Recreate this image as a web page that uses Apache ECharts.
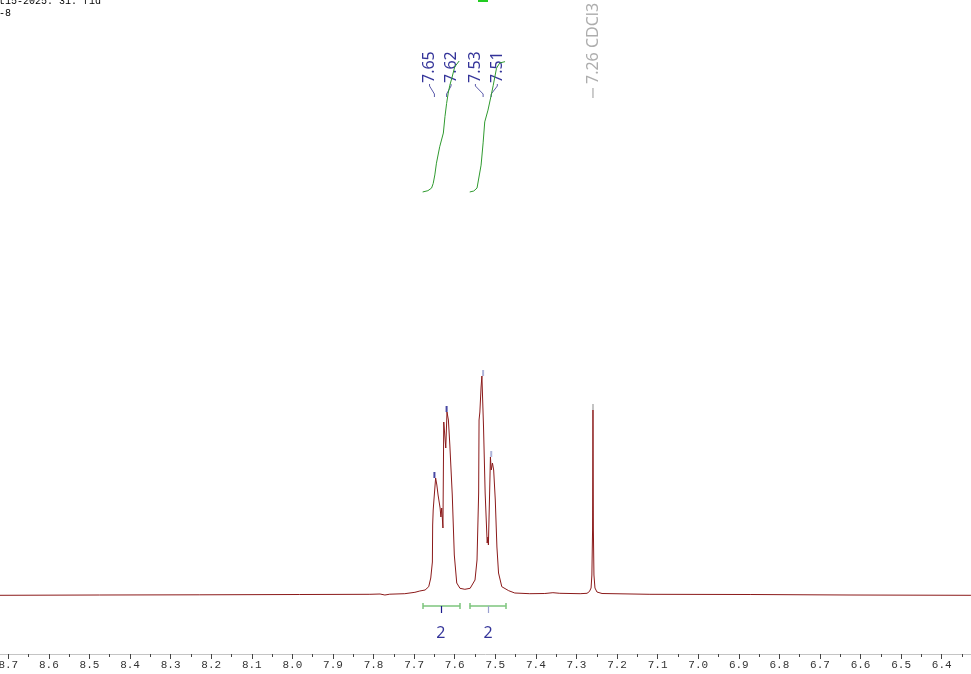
<!DOCTYPE html>
<html><head><meta charset="utf-8">
<script src="https://cdn.jsdelivr.net/npm/echarts@6/dist/echarts.min.js"></script>
<style>html,body{margin:0;padding:0;background:#fff}#c{width:971px;height:674px}</style>
</head><body><div id="c"></div>
<script>
// 1H NMR spectrum (ppm, arbitrary intensity)
const specPpm = [8.80, 8.721, 8.475, 8.228, 7.982, 7.809, 7.784, 7.772, 7.760, 7.723, 7.698, 7.686,
  7.673, 7.664, 7.659, 7.655, 7.6543, 7.6530, 7.6512, 7.647, 7.644, 7.641, 7.636, 7.634, 7.632, 7.629,
  7.627, 7.622, 7.619, 7.6155, 7.612, 7.606, 7.601, 7.595, 7.587, 7.575,
  7.562, 7.550, 7.545, 7.541, 7.540, 7.538, 7.535, 7.533, 7.529, 7.525, 7.520, 7.518, 7.517, 7.514,
  7.512, 7.510, 7.507, 7.504, 7.500, 7.496, 7.492, 7.484, 7.467, 7.452, 7.415, 7.378, 7.358, 7.341,
  7.291, 7.274, 7.268, 7.264, 7.262, 7.2603, 7.2593, 7.2583, 7.2569, 7.2544, 7.2495, 7.237,
  7.119, 6.872, 6.626, 6.328, 6.30];
const specInt = [-1.4, -1.3, -1.0, -0.8, -0.5, -0.3, 0, -1, -0.2, 0.3, 1.7, 3,
  4, 7.3, 16, 32, 69, 84, 94, 116, 109, 99, 86, 77, 86, 66,
  172, 146, 182, 174, 149, 99, 39, 11, 5.7, 4.7,
  5.7, 14, 34, 101, 174, 182, 207, 218, 167, 101, 51, 57, 49, 101,
  137, 124, 131, 124, 94, 47, 21, 7.3, 3.3, 1, 0.3, 0.5, 1.3, 0.7,
  0.3, 0.7, 2.5, 6, 19, 64, 184, 64, 19, 6, 2, 0.5,
  -0.3, -0.5, -1, -1.3, -1.3];

// integral curves (cumulative, normalised to 2H)
const int1Ppm = [7.679, 7.666, 7.657, 7.653, 7.649, 7.645, 7.637, 7.628, 7.624, 7.620, 7.616, 7.612, 7.607, 7.600, 7.589];
const int1Val = [0, 0.02, 0.06, 0.13, 0.26, 0.44, 0.69, 0.90, 1.15, 1.35, 1.51, 1.63, 1.74, 1.91, 2.0];
const int2Ppm = [7.563, 7.553, 7.545, 7.542, 7.535, 7.530, 7.526, 7.518, 7.511, 7.505, 7.497, 7.489, 7.476];
const int2Val = [0, 0.015, 0.06, 0.08, 0.41, 0.75, 1.07, 1.25, 1.45, 1.63, 1.89, 1.97, 1.99];

// integration regions
const intRanges = [[7.678, 7.587], [7.563, 7.474]];
const intCenters = [7.634, 7.518];
const intValues = ['2', '2'];

// peak picking
const peakLabels = ['7.65', '7.62', '7.53', '7.51'];
const peakPpm = [7.65, 7.62, 7.53, 7.51];
const peakHeights = [116, 182, 218, 137];
const labelPpm = [7.662, 7.609, 7.549, 7.495];
const solventLabel = '7.26 CDCl3';
const solventPpm = 7.2593;
const solventHeight = 184;

const chart = echarts.init(document.getElementById('c'), null, {renderer: 'canvas'});

const spectrum = specPpm.map((p, i) => [p, specInt[i]]);
const integ1 = int1Ppm.map((p, i) => [p, int1Val[i]]);
const integ2 = int2Ppm.map((p, i) => [p, int2Val[i]]);

const barSegs = [];
intRanges.forEach(r => {
  barSegs.push({coords: [[r[0], -12], [r[1], -12]]});
  barSegs.push({coords: [[r[0], -9], [r[0], -15]]});
  barSegs.push({coords: [[r[1], -9], [r[1], -15]]});
});
const centerTicks = intCenters.map((c, i) => ({coords: [[c, -12], [c, -19]],
  lineStyle: {color: i === 0 ? '#1a1a8c' : '#9aa0d0'}}));

const connectors = peakPpm.map((p, i) => ({coords: [[labelPpm[i], 510], [labelPpm[i], 508], [p, 500], [p, 497]]}));
connectors.push({coords: [[solventPpm, 506], [solventPpm, 496]], lineStyle: {color: '#999'}});

const topTickColors = ['#1a1a8c', '#1a1a8c', '#9aa0d0', '#9aa0d0'];
const topTicks = peakPpm.map((p, i) => ({value: [p, peakHeights[i]], itemStyle: {color: topTickColors[i]}}));
topTicks.push({value: [solventPpm, solventHeight], itemStyle: {color: '#b5b5b5'}});

const labelData = peakLabels.map((t, i) => ({value: [labelPpm[i], 511], name: t}));
labelData.push({value: [solventPpm, 510], name: solventLabel, label: {color: '#999'}});

const intLabelData = intCenters.map((c, i) => ({value: [c, -39], name: intValues[i]}));

chart.setOption({
  animation: false,
  grid: {left: -32.3, right: -11.3, top: 0, bottom: 20, containLabel: false, outerBoundsMode: 'none'},
  xAxis: {
    type: 'value', min: 6.3, max: 8.8, interval: 0.1, inverse: true,
    axisLine: {show: true, onZero: false, lineStyle: {color: '#c4c4c4', width: 1}},
    axisTick: {show: true, length: 5, lineStyle: {color: '#444'}},
    minorTick: {show: true, splitNumber: 2, length: 3, lineStyle: {color: '#444'}},
    axisLabel: {formatter: v => v.toFixed(1), fontFamily: 'Liberation Mono', fontSize: 11, color: '#333', margin: 6},
    splitLine: {show: false}
  },
  yAxis: [
    {type: 'value', min: -60, max: 594, show: false},
    {type: 'value', min: -7.053, max: 2.931, show: false}
  ],
  graphic: [
    {type: 'text', left: -1, top: -5, style: {text: 't15-2025. 31. fid\n-8', font: '10px "Liberation Mono"', fill: '#000', lineHeight: 12}},
    {type: 'rect', shape: {x: 478, y: 0, width: 10, height: 2}, style: {fill: '#22cc22'}}
  ],
  series: [
    {type: 'line', data: spectrum, showSymbol: false, symbol: 'none', lineStyle: {color: '#8b1a1a', width: 1}, z: 3},
    {type: 'line', yAxisIndex: 1, data: integ1, showSymbol: false, symbol: 'none', lineStyle: {color: '#2f9a2f', width: 1}},
    {type: 'line', yAxisIndex: 1, data: integ2, showSymbol: false, symbol: 'none', lineStyle: {color: '#2f9a2f', width: 1}},
    {type: 'lines', coordinateSystem: 'cartesian2d', data: barSegs, lineStyle: {color: '#7cc47c', width: 1.5, opacity: 1}},
    {type: 'lines', coordinateSystem: 'cartesian2d', data: centerTicks, lineStyle: {width: 1.2, opacity: 1}},
    {type: 'lines', coordinateSystem: 'cartesian2d', polyline: true, data: connectors, lineStyle: {color: '#5a5aaa', width: 1, opacity: 1}},
    {type: 'scatter', data: topTicks, symbol: 'rect', symbolSize: [2, 6], symbolOffset: [0, -3], z: 4},
    {type: 'scatter', data: labelData, symbolSize: 0,
      label: {show: true, formatter: p => p.name, rotate: 90, position: [0, 0], align: 'left', verticalAlign: 'middle',
        color: '#000080', fontFamily: 'Noto Sans', fontSize: 16}},
    {type: 'scatter', data: intLabelData, symbolSize: 0,
      label: {show: true, formatter: p => p.name, position: [0, 0], align: 'center', verticalAlign: 'middle',
        color: '#000080', fontFamily: 'Noto Sans', fontSize: 16}}
  ]
});
</script>
</body></html>
